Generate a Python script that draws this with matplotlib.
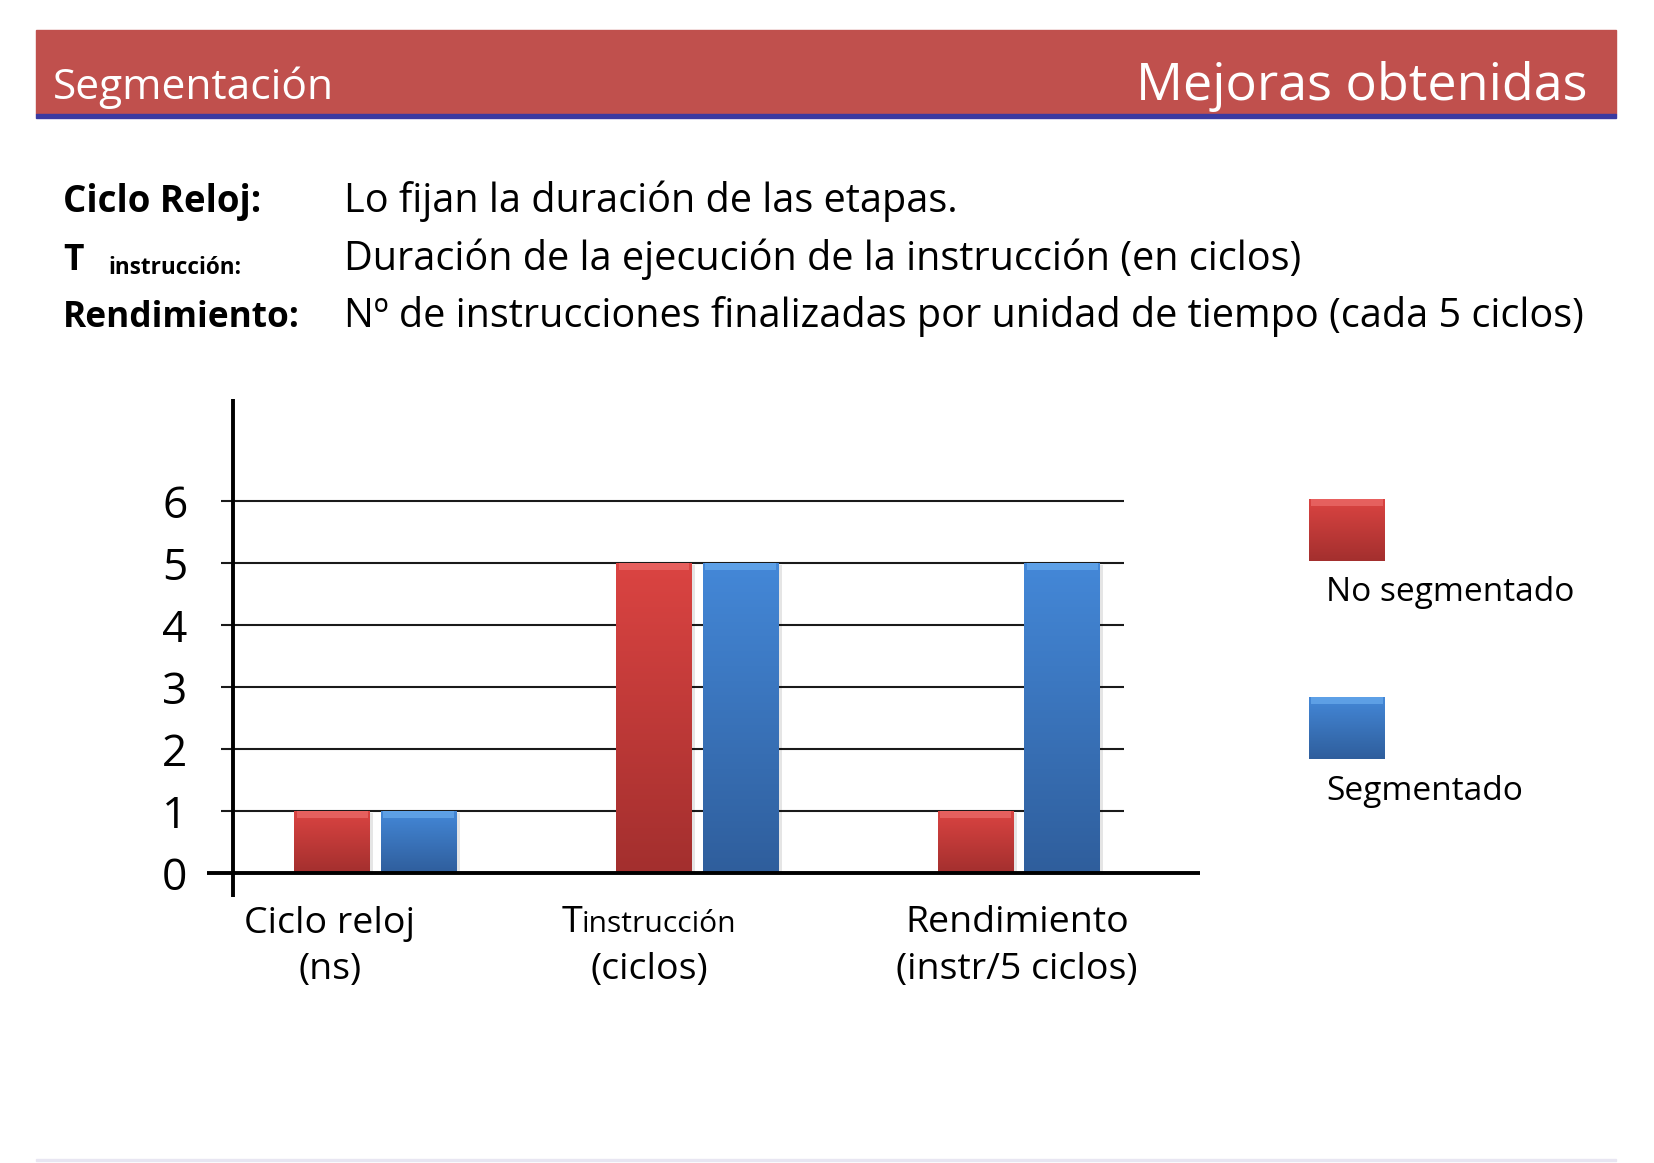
import numpy as np
import matplotlib
matplotlib.use("Agg")
import matplotlib.pyplot as plt
from matplotlib.colors import LinearSegmentedColormap
from matplotlib.patches import Rectangle

# ---------------- data ----------------
cat_line1 = ["Ciclo reloj", "T", "Rendimiento"]
cat_line1_sub = ["", "instrucción", ""]
cat_line2 = ["(ns)", "(ciclos)", "(instr/5 ciclos)"]
series_names = ["No segmentado", "Segmentado"]
no_segmentado = [1, 5, 1]
segmentado = [1, 5, 5]
yticks = [0, 1, 2, 3, 4, 5, 6]

header_left = "Segmentación"
header_right = "Mejoras obtenidas"
row_labels = ["Ciclo Reloj:", "T", "Rendimiento:"]
row_label_sub = ["", "instrucción:", ""]
row_texts = ["Lo fijan la duración de las etapas.",
             "Duración de la ejecución de la instrucción (en ciclos)",
             "Nº de instrucciones finalizadas por unidad de tiempo (cada 5 ciclos)"]

# ---------------- figure ----------------
W, H = 1654, 1163
FONT = "Open Sans"
plt.rcParams["font.family"] = [FONT, "DejaVu Sans"]
fig = plt.figure(figsize=(W / 100, H / 100), dpi=100)
fig.patch.set_facecolor("white")
R = fig.canvas.get_renderer()


def fx(x):
    return x / W


def fy(y):
    return 1 - y / H


def width(t):
    return t.get_window_extent(R).width


def fit(t, target):
    t.set_fontsize(t.get_fontsize() * target / width(t))
    return t.get_fontsize()


# header band
fig.patches.append(Rectangle((fx(36), fy(114)), (1616 - 36) / W, (114 - 29.5) / H,
                             transform=fig.transFigure, color="#C0504D", zorder=0))
fig.patches.append(Rectangle((fx(36), fy(118)), (1616 - 36) / W, 4 / H,
                             transform=fig.transFigure, color="#3A3AA0", zorder=1))
fig.patches.append(Rectangle((fx(36), fy(1161)), (1616 - 36) / W, 2 / H,
                             transform=fig.transFigure, color="#E8E6F2", zorder=1))

t = fig.text(fx(53), fy(99), header_left, color="white", fontsize=30, va="baseline")
fit(t, 281)
t = fig.text(fx(1588), fy(100), header_right, color="white", fontsize=34, va="baseline", ha="right")
fit(t, 452)

# description rows
baselines = [212, 270, 327]
t_desc = fig.text(fx(344), fy(baselines[2]), row_texts[2], fontsize=24, va="baseline", color="black")
desc_fs = fit(t_desc, 1244)
for i in range(2):
    fig.text(fx(344), fy(baselines[i]), row_texts[i], fontsize=desc_fs, va="baseline", color="black")

t_lab = fig.text(fx(63), fy(baselines[2]), row_labels[2], fontsize=24, va="baseline",
                 fontweight="bold", color="black")
lab_fs = fit(t_lab, 237)
fig.text(fx(63), fy(baselines[0]), row_labels[0], fontsize=lab_fs * 1.04, va="baseline",
         fontweight="bold", color="black")
tT = fig.text(fx(63), fy(baselines[1]), row_labels[1], fontsize=lab_fs, va="baseline",
              fontweight="bold", color="black")
fig.text(fx(108), fy(274), row_label_sub[1], fontsize=lab_fs * 0.64, va="baseline",
         fontweight="bold", color="black")

# ---------------- chart axes ----------------
ax = fig.add_axes([fx(206.7), fy(896.6), (1200.4 - 206.7) / W, (896.6 - 398.7) / H])
xlim = (-0.5247, 2.564)
ylim = (-0.374, 7.648)

x = np.arange(len(cat_line1))
off = 0.1344
bw = 0.236

grad = np.linspace(0, 1, 256).reshape(-1, 1)
cmaps = [LinearSegmentedColormap.from_list("r", ["#A32F2E", "#DB4442"]),
         LinearSegmentedColormap.from_list("b", ["#2F5E9C", "#4488D8"])]
bevels = ["#F07573", "#70B2F2"]

ax.hlines(yticks[1:], -0.4787, 2.328, color="#1a1a1a", lw=1.5, zorder=1)

for vals, sgn, cmap, bev in [(no_segmentado, -1, cmaps[0], bevels[0]),
                             (segmentado, 1, cmaps[1], bevels[1])]:
    bars = ax.bar(x + sgn * off, vals, bw, facecolor="none", edgecolor="none", zorder=3)
    for p in bars:
        x0, w, h = p.get_x(), p.get_width(), p.get_height()
        ax.add_patch(Rectangle((x0 + 0.01, -0.03), w, h, color="#000000", alpha=0.10, zorder=2, lw=0))
        im = ax.imshow(grad, extent=[x0, x0 + w, 0, h], origin="lower", aspect="auto",
                       cmap=cmap, zorder=3)
        im.set_clip_path(p)
        ax.add_patch(Rectangle((x0 + 0.008, h - 0.11), w - 0.016, 0.11, color=bev,
                               alpha=0.6, zorder=3.5, lw=0))

ax.vlines(-0.4426, ylim[0], ylim[1], color="black", lw=2.8, zorder=5)
ax.hlines(0, xlim[0], xlim[1], color="black", lw=2.8, zorder=5)

ax.set_xlim(*xlim)
ax.set_ylim(*ylim)
for s in ax.spines.values():
    s.set_visible(False)
ax.set_xticks([])
ax.set_yticks(yticks)
ax.set_yticklabels([str(v) for v in yticks])
ax.patch.set_alpha(0)

# chart label font size
tmp = fig.text(0, 0, "Rendimiento", fontsize=22)
lbl_fs = fit(tmp, 223.6)
tmp.remove()
ax.tick_params(axis="y", length=0, pad=14, labelsize=lbl_fs * 1.18)

label_cx = [330, 649, 1017]
for i in range(len(cat_line1)):
    if cat_line1_sub[i]:
        a = fig.text(0, fy(932.5), cat_line1[i], fontsize=lbl_fs, va="baseline")
        b = fig.text(0, fy(932.5), cat_line1_sub[i], fontsize=lbl_fs * 0.8, va="baseline")
        wa, wb = width(a), width(b)
        start = label_cx[i] - (wa + wb) / 2
        a.set_x(fx(start))
        b.set_x(fx(start + wa))
    else:
        fig.text(fx(label_cx[i]), fy(932.5), cat_line1[i], fontsize=lbl_fs, va="baseline", ha="center")
    fig.text(fx(label_cx[i]), fy(979), cat_line2[i], fontsize=lbl_fs, va="baseline", ha="center")

# legend
leg_boxes = [(499, 561), (697, 759)]
leg_base = [601, 800]
for i in range(2):
    y0, y1 = leg_boxes[i]
    lax = fig.add_axes([fx(1309), fy(y1), (1385 - 1309) / W, (y1 - y0) / H])
    lax.imshow(grad, extent=[0, 1, 0, 1], origin="lower", aspect="auto", cmap=cmaps[i])
    lax.add_patch(Rectangle((0.03, 0.88), 0.94, 0.12, color=bevels[i], alpha=0.6, lw=0))
    lax.set_xlim(0, 1)
    lax.set_ylim(0, 1)
    lax.axis("off")
    tl = fig.text(fx(1326), fy(leg_base[i]), series_names[i], fontsize=lbl_fs, va="baseline")
    if i == 0:
        leg_fs = fit(tl, 249)
    else:
        tl.set_fontsize(leg_fs)

fig.savefig("out.png", dpi=100)
